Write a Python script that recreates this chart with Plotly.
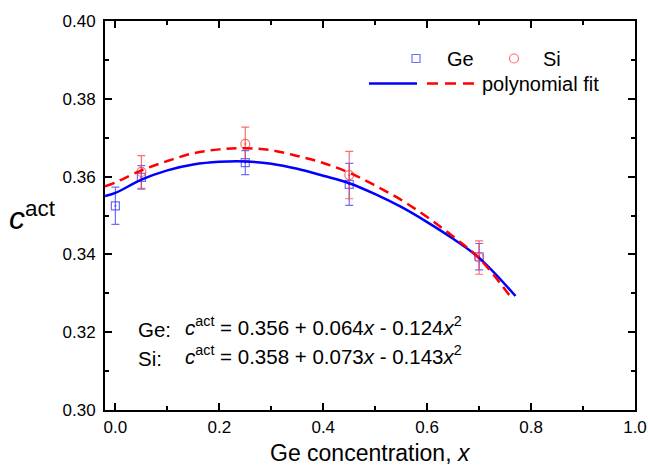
import plotly.graph_objects as go

# ---- data ----
x_pts = [0.0, 0.05, 0.25, 0.45, 0.70]
ge_y = [0.3525, 0.3598, 0.3636, 0.3580, 0.3394]
ge_err = [0.0048, 0.0030, 0.0031, 0.0054, 0.0034]
si_x = [0.05, 0.25, 0.45, 0.70]
si_y = [0.3612, 0.3684, 0.3604, 0.3392]
si_err = [0.0042, 0.0043, 0.0061, 0.0043]

ge_fit_x = [-0.02, 0.0, 0.05, 0.10, 0.15, 0.20, 0.25, 0.30, 0.35, 0.40, 0.45, 0.50, 0.55, 0.60, 0.65, 0.70, 0.77]
ge_fit_y = [0.3550, 0.3558, 0.3592, 0.3616, 0.3631, 0.3638, 0.3639, 0.3633, 0.3620, 0.3602, 0.3583,
            0.3555, 0.3522, 0.3483, 0.3440, 0.3391, 0.3293]
si_fit_x = [-0.02, 0.0, 0.05, 0.10, 0.15, 0.20, 0.25, 0.30, 0.35, 0.40, 0.45, 0.50, 0.55, 0.60, 0.65, 0.70, 0.76]
si_fit_y = [0.3575, 0.3585, 0.3616, 0.3640, 0.3660, 0.3670, 0.3673, 0.3668, 0.3653, 0.3635, 0.3610,
            0.3577, 0.3540, 0.3496, 0.3446, 0.3390, 0.3292]

x_ticks = [0.0, 0.2, 0.4, 0.6, 0.8, 1.0]
y_ticks = [0.30, 0.32, 0.34, 0.36, 0.38, 0.40]

eq_ge = "<i>c</i><sup>act</sup> = 0.356 + 0.064<i>x</i> - 0.124<i>x</i><sup>2</sup>"
eq_si = "<i>c</i><sup>act</sup> = 0.358 + 0.073<i>x</i> - 0.143<i>x</i><sup>2</sup>"

# ---- layout geometry (window pixels; body margin removed in the page) ----
W, H = 648, 467
PL, PR, PT, PB = 105, 635, 21, 410          # plot area in pixels
L, R, T, B = PL, W - PR, PT, H - PB
PW, PH = PR - PL, PB - PT
FONT = "Arial, Liberation Sans, sans-serif"
BLUE_PT = "rgba(60,60,255,0.75)"
RED_PT = "rgba(255,60,60,0.75)"


def px(xp):
    return (xp - PL) / PW


def py(yp):
    return (PB - yp) / PH


fig = go.Figure()

fig.add_trace(go.Scatter(
    x=x_pts, y=ge_y, mode="markers", name="Ge",
    marker=dict(symbol="square-open-dot", size=8, color=BLUE_PT, line=dict(width=1.2, color=BLUE_PT)),
    error_y=dict(type="data", array=ge_err, color=BLUE_PT, thickness=1.2, width=4),
    showlegend=False))
fig.add_trace(go.Scatter(
    x=si_x, y=si_y, mode="markers", name="Si",
    marker=dict(symbol="circle-open-dot", size=9, color=RED_PT, line=dict(width=1.2, color=RED_PT)),
    error_y=dict(type="data", array=si_err, color=RED_PT, thickness=1.2, width=4),
    showlegend=False))
fig.add_trace(go.Scatter(
    x=ge_fit_x, y=ge_fit_y, mode="lines", line=dict(color="#0000ff", width=2.5, shape="spline"),
    showlegend=False))
fig.add_trace(go.Scatter(
    x=si_fit_x, y=si_fit_y, mode="lines", line=dict(color="#ff0000", width=2.5, dash="10px,6px", shape="spline"),
    showlegend=False))

shapes = []
# legend symbols
shapes.append(dict(type="rect", xref="paper", yref="paper", x0=px(412), x1=px(420), y0=py(62.5), y1=py(54.5),
                   line=dict(color=BLUE_PT, width=1.2)))
shapes.append(dict(type="circle", xref="paper", yref="paper", x0=px(509.5), x1=px(518.5), y0=py(63), y1=py(54),
                   line=dict(color=RED_PT, width=1.2)))
shapes.append(dict(type="line", xref="paper", yref="paper", x0=px(369), x1=px(417), y0=py(83.5), y1=py(83.5),
                   line=dict(color="#0000ff", width=2.5)))
shapes.append(dict(type="line", xref="paper", yref="paper", x0=px(427), x1=px(476), y0=py(83.5), y1=py(83.5),
                   line=dict(color="#ff0000", width=2.5, dash="11px,7px")))

ann = []
def text(xp, yp, s, size, xanchor="left", yanchor="middle"):
    ann.append(dict(xref="paper", yref="paper", x=px(xp), y=py(yp), text=s, showarrow=False,
                    xanchor=xanchor, yanchor=yanchor, font=dict(family=FONT, size=size, color="black")))

text(445, 59, "Ge", 20)
text(541, 59, "Si", 20)
text(480, 84, "polynomial fit", 20)
text(136, 329, "Ge:", 20.5)
text(183, 326, eq_ge, 20.5)
text(136, 358, "Si:", 20.5)
text(183, 355, eq_si, 20.5)
text(58, 216, "<i>c</i><sup>act</sup>", 32, xanchor="right")
text(370, 453, "Ge concentration, <i>x</i>", 23, xanchor="center")

axis_common = dict(showline=True, linecolor="black", linewidth=2, mirror="ticks", ticks="inside",
                   ticklen=7, tickwidth=1.5, tickcolor="black", showgrid=False, zeroline=False,
                   automargin=False,
                   tickfont=dict(family=FONT, size=17, color="black"))

fig.update_layout(
    width=W, height=H, margin=dict(l=L, r=R, t=T, b=B, autoexpand=False),
    paper_bgcolor="white", plot_bgcolor="white",
    shapes=shapes, annotations=ann, showlegend=False,
    xaxis=dict(range=[-0.02, 1.0], tickvals=x_ticks, ticktext=[f"{v:.1f}" for v in x_ticks],
               ticklabelstandoff=1,
               minor=dict(dtick=0.1, tick0=0, ticks="inside", ticklen=4, tickwidth=1.5, tickcolor="black"),
               **axis_common),
    yaxis=dict(range=[0.30, 0.40], tickvals=y_ticks, ticktext=[f"{v:.2f}" for v in y_ticks],
               ticklabelstandoff=4,
               minor=dict(dtick=0.01, tick0=0.30, ticks="inside", ticklen=4, tickwidth=1.5, tickcolor="black"),
               **axis_common),
)

fig.write_html("out.html", config={"displayModeBar": False},
               post_script="document.body.style.margin='0';document.body.style.overflow='hidden';")
